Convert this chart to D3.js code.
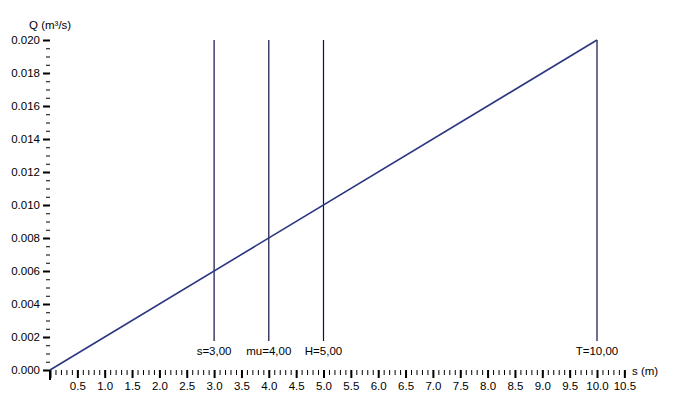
<!DOCTYPE html>
<html>
<head>
<meta charset="utf-8">
<script src="https://cdn.jsdelivr.net/npm/d3@7"></script>
<style>
  body { margin: 0; background: #fff; }
  svg { display: block; font-family: "Liberation Sans", Arial, sans-serif; }
</style>
</head>
<body>
<svg id="chart" width="684" height="420"></svg>
<script>
const svg = d3.select("#chart");

// data
const lineS = [0, 10];
const lineQ = [0, 0.02];
const markerNames = ["s", "mu", "H", "T"];
const markerValues = [3, 4, 5, 10];
const xMajor = d3.range(0, 10.51, 0.5);
const xMinor = d3.range(0, 10.51, 0.1);
const yMajor = d3.range(0, 0.02001, 0.002);
const yMinor = d3.range(0, 0.02001, 0.0005);

const x = d3.scaleLinear().domain([0, 10]).range([50, 597]);
const y = d3.scaleLinear().domain([0, 0.02]).range([370, 40]);

const ink = "#000";
const fontSize = "11.5px";

// x axis - minor ticks
svg.append("g")
    .attr("transform", `translate(0,${y(0)})`)
    .call(d3.axisBottom(x).tickValues(xMinor).tickSize(5).tickFormat(""))
    .call(g => g.select(".domain").remove())
    .call(g => g.selectAll("line").attr("stroke", ink).attr("stroke-width", 1));

// x axis - major ticks
svg.append("g")
    .attr("transform", `translate(0,${y(0)})`)
    .call(d3.axisBottom(x).tickValues(xMajor).tickSize(8).tickPadding(4)
        .tickFormat(d => d === 0 ? "" : d3.format(".1f")(d)))
    .call(g => g.select(".domain").remove())
    .call(g => g.selectAll("line").attr("stroke", ink).attr("stroke-width", 2))
    .call(g => g.selectAll("text").attr("fill", ink).style("font-size", fontSize)
        .style("font-family", "Liberation Sans, Arial, sans-serif"));

// y axis - minor ticks
svg.append("g")
    .attr("transform", `translate(${x(0)},0)`)
    .call(d3.axisLeft(y).tickValues(yMinor).tickSize(4).tickFormat(""))
    .call(g => g.select(".domain").remove())
    .call(g => g.selectAll("line").attr("stroke", ink).attr("stroke-width", 1));

// y axis - major ticks
svg.append("g")
    .attr("transform", `translate(${x(0)},0)`)
    .call(d3.axisLeft(y).tickValues(yMajor).tickSize(7).tickPadding(3).tickFormat(d3.format(".3f")))
    .call(g => g.select(".domain").remove())
    .call(g => g.selectAll("line").attr("stroke", ink).attr("stroke-width", 2))
    .call(g => g.selectAll("text").attr("fill", ink).style("font-size", fontSize)
        .style("font-family", "Liberation Sans, Arial, sans-serif"));

// origin corner
svg.append("line")
    .attr("x1", x(0)).attr("x2", x(0))
    .attr("y1", y(0)).attr("y2", y(0) + 10)
    .attr("stroke", ink).attr("stroke-width", 2);

// axis titles
svg.append("text")
    .attr("x", 29).attr("y", 29)
    .style("font-size", fontSize)
    .text("Q (m³/s)");

svg.append("text")
    .attr("x", 632).attr("y", 375)
    .style("font-size", fontSize)
    .text("s (m)");

// marker lines
const markers = markerNames.map((n, i) => ({ name: n, value: markerValues[i] }));

svg.append("g").selectAll("line")
    .data(markers)
    .join("line")
    .attr("x1", d => x(d.value)).attr("x2", d => x(d.value))
    .attr("y1", y(0.02)).attr("y2", 341)
    .attr("stroke", "#101048")
    .attr("stroke-width", 1.2);

svg.append("g").selectAll("text")
    .data(markers)
    .join("text")
    .attr("x", d => x(d.value))
    .attr("y", 355)
    .attr("text-anchor", "middle")
    .style("font-size", fontSize)
    .text(d => `${d.name}=${d3.format(".2f")(d.value).replace(".", ",")}`);

// Q(s) line
svg.append("path")
    .datum(lineS.map((s, i) => [s, lineQ[i]]))
    .attr("fill", "none")
    .attr("stroke", "#2b3580")
    .attr("stroke-width", 1.6)
    .attr("d", d3.line().x(d => x(d[0])).y(d => y(d[1])));
</script>
</body>
</html>
